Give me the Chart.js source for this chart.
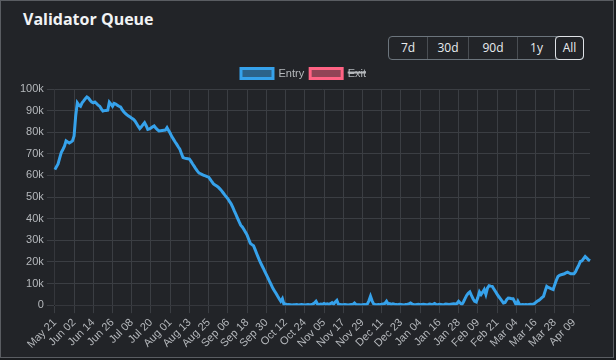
<!DOCTYPE html>
<html>
<head>
<meta charset="utf-8">
<script src="https://cdn.jsdelivr.net/npm/chart.js@4.4.1/dist/chart.umd.min.js"></script>
<style>
  html,body{margin:0;padding:0;background:#1a1c1f;}
  #card{position:absolute;left:0;top:0;width:612px;height:356px;background:#222428;border:1px solid #5a5d62;overflow:hidden;}
  #title{position:absolute;left:22px;top:7px;color:#f1f3f5;font:bold 16px "Open Sans",sans-serif;}
  #btns{position:absolute;left:387px;top:35px;height:22px;display:flex;border:1px solid #6c757d;border-radius:4px;}
  #btns div{color:#e9ecef;font:12px "Open Sans",sans-serif;line-height:22px;text-align:center;border-right:1px solid #4a4e53;}
  #btns div:last-child{border-right:none;}
  #btns div.active{border:1px solid #dee2e6;border-radius:4px;margin:-1px;}
  #wrap{position:absolute;left:0;top:55px;width:612px;height:301px;}
</style>
</head>
<body>
<div id="card">
  <div id="title">Validator Queue</div>
  <div id="btns">
    <div style="width:38px">7d</div>
    <div style="width:40px">30d</div>
    <div style="width:48px">90d</div>
    <div style="width:37px">1y</div>
    <div class="active" style="width:27px">All</div>
  </div>
  <div id="wrap"><canvas id="c"></canvas></div>
</div>
<script>
// Daily categories start at May 21 (2023), 335 days
const startDate = "2023-05-21";
const dayCount = 335;
const tickEvery = 12;
const yTicks = ["0","10k","20k","30k","40k","50k","60k","70k","80k","90k","100k"];

// Entry queue (thousands of validators)
const entryK = [
  62.7, 64, 65.3, 68, 70.6, 72, 73.5, 76, 75.5, 75,
  75.5, 76, 78.3, 87.5, 93.6, 92.5, 92, 93.6, 94.5, 95.5,
  96.3, 95.8, 94.8, 94, 93.6, 94, 93.3, 92.5, 92, 90.8,
  89.8, 90, 90.1, 90.2, 93.9, 93, 92, 93.3, 93, 92.5,
  92, 91.7, 90.5, 89.5, 88.7, 88, 87.5, 87, 86.5, 86,
  85.2, 84, 82.8, 81.7, 82.5, 83.5, 84.4, 83, 81.3, 81.5,
  82, 82.5, 82.9, 82, 81.2, 80.6, 80.7, 80.8, 80.9, 81,
  82.1, 80.8, 79.5, 78, 76.8, 75.6, 74.5, 73.3, 72.2, 70.2,
  68.3, 68, 67.8, 67.7, 67.6, 66.5, 65.3, 64.2, 63, 62,
  61.1, 60.8, 60.4, 60, 59.8, 59.5, 59.2, 58.2, 57.1, 56.1,
  55.6, 55.1, 54.6, 53.8, 53, 52, 51, 50.1, 49.2, 48,
  46.9, 45.3, 43.6, 42, 40.3, 38.6, 37, 36.2, 35, 33.7,
  32.4, 30.5, 28.6, 28, 27.5, 25.7, 23.8, 22, 20.2, 18.7,
  17.2, 15.6, 14.1, 12.6, 11, 9.5, 7.9, 6.7, 5.5, 4.2,
  3, 1.8, 3, 0.3, 0.5, 0.2, 0.3, 0.2, 0.1, 0.2,
  0.2, 0.3, 0.1, 0.2, 0.3, 0.2, 0.1, 0.2, 0.3, 0.2,
  0.3, 0.5, 1, 1.8, 0.4, 0.3, 0.5, 0.3, 0.8, 0.4,
  0.6, 0.3, 0.7, 1.2, 0.5, 1.5, 2.2, 0.4, 0.3, 0.2,
  0.2, 0.3, 0.2, 0.1, 0.2, 0.3, 0.4, 1, 0.3, 0.2,
  0.2, 0.1, 0.2, 0.3, 0.2, 0.5, 2, 4.1, 2, 0.5,
  0.3, 0.2, 0.3, 0.2, 0.4, 0.6, 0.8, 1.8, 0.5, 0.7,
  0.3, 0.6, 0.4, 0.3, 0.2, 0.4, 0.3, 0.2, 0.1, 0.3,
  0.4, 0.6, 1, 0.5, 0.3, 0.2, 0.3, 0.4, 0.2, 0.3,
  0.4, 0.3, 0.2, 0.3, 0.5, 0.3, 0.4, 0.8, 0.3, 0.2,
  0.4, 0.3, 0.2, 0.3, 0.5, 0.4, 0.3, 0.4, 0.5, 0.6,
  0.5, 0.8, 1.8, 1, 0.3, 1.5, 3, 4.5, 5.5, 6.1,
  4.5, 3, 1.8, 1.5, 3.5, 6.1, 4.9, 6, 7.2, 5,
  7.9, 9, 8.8, 8.7, 7.5, 6.3, 5.1, 4, 3, 2,
  1, 1.2, 2.5, 3.3, 3.2, 3, 3, 1.5, 0, 1.8,
  0.3, 0.2, 0.3, 0.2, 0.3, 0.2, 0.3, 0.4, 0.3, 0.6,
  1.2, 1.8, 2.2, 2.8, 3.5, 4.1, 6.5, 8.7, 8.2, 7.9,
  7.5, 7.2, 9.5, 11.5, 13.3, 13.8, 14.1, 14.3, 14.5, 15,
  15.3, 14.9, 14.5, 14.5, 14.5, 15.5, 17.1, 18.5, 20.2, 20.5,
  21.5, 22.5, 21.8, 21, 20.5
];
// Exit series is hidden in the reference (struck-through legend)
const exitK = [];

const months = ["Jan","Feb","Mar","Apr","May","Jun","Jul","Aug","Sep","Oct","Nov","Dec"];
const categories = [];
{
  const d0 = new Date(startDate + "T00:00:00Z");
  for (let i = 0; i < dayCount; i++) {
    const d = new Date(d0.getTime() + i * 86400000);
    categories.push(months[d.getUTCMonth()] + " " + String(d.getUTCDate()).padStart(2, "0"));
  }
}

const tickColor = "#b5b8bc";
const gridColor = "#3b3e43";
Chart.defaults.font.family = "'Liberation Sans', Arial, sans-serif";

new Chart(document.getElementById("c"), {
  type: "line",
  data: {
    labels: categories,
    datasets: [
      { label: "Entry", data: entryK.map(v => v * 1000), borderColor: "#36A2EB",
        backgroundColor: "rgba(54,162,235,0.5)", borderWidth: 3, pointRadius: 0, tension: 0 },
      { label: "Exit", data: exitK.map(v => v * 1000), borderColor: "#FF6384",
        backgroundColor: "rgba(255,99,132,0.5)", borderWidth: 3, pointRadius: 0, hidden: true }
    ]
  },
  options: {
    responsive: true,
    maintainAspectRatio: false,
    animation: false,
    layout: { padding: { left: 16, right: 23, top: 6, bottom: 3 } },
    plugins: {
      legend: {
        labels: { color: "#b5b8bc", font: { size: 11 }, boxWidth: 32, boxHeight: 10, padding: 6 }
      },
      tooltip: { enabled: false }
    },
    scales: {
      x: {
        grid: { color: gridColor },
        ticks: {
          color: tickColor, font: { size: 11 }, autoSkip: false, maxRotation: 45, minRotation: 45,
          callback: function (v, i) { return i % tickEvery === 0 ? categories[i] : null; }
        }
      },
      y: {
        min: 0, max: 100000,
        grid: { color: gridColor },
        ticks: {
          color: tickColor, font: { size: 11 }, stepSize: 10000,
          callback: function (v) { return yTicks[Math.round(v / 10000)]; }
        }
      }
    }
  }
});
</script>
</body>
</html>
